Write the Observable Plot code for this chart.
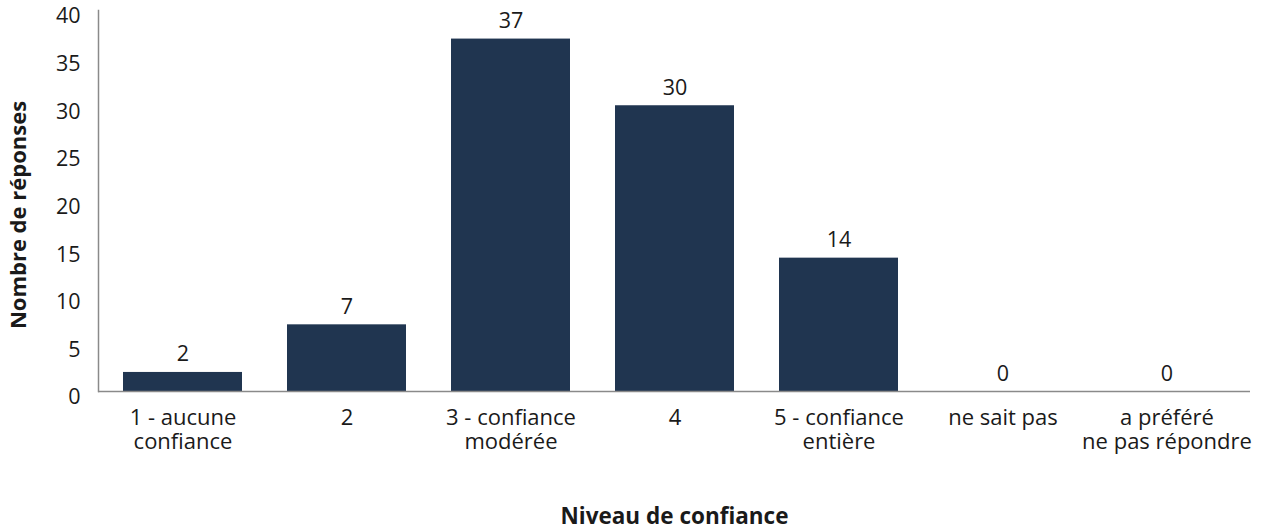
<!DOCTYPE html>
<html>
<head>
<meta charset="utf-8">
<script src="https://cdn.jsdelivr.net/npm/d3@7"></script>
<script src="https://cdn.jsdelivr.net/npm/@observablehq/plot@0.6"></script>
<style>
  html, body { margin: 0; padding: 0; background: #fff; }
  #chart svg { display: block; }
</style>
</head>
<body>
<div id="chart"></div>
<script>
// Confidence levels (x categories) and number of responses for each
const categories = [
  "1 - aucune\nconfiance",
  "2",
  "3 - confiance\nmodérée",
  "4",
  "5 - confiance\nentière",
  "ne sait pas",
  "a préféré\nne pas répondre"
];
const responses = [2, 7, 37, 30, 14, 0, 0];
const yTicks = [0, 5, 10, 15, 20, 25, 30, 35, 40];
const xTitle = "Niveau de confiance";
const yTitle = "Nombre de réponses";

const rows = categories.map((c, i) => ({category: c, value: responses[i]}));

const font = "'Open Sans', 'Noto Sans', sans-serif";
const ink = "#1a1a1a";
const barColor = "#203550";
const axisColor = "#8a8a8a";

const chart = Plot.plot({
  width: 1266,
  height: 531,
  marginLeft: 98,
  marginRight: 16,
  marginTop: 10,
  marginBottom: 140,
  style: {fontFamily: font, fontSize: "21px", color: ink, background: "#fff"},
  x: {domain: categories, paddingInner: 0.277, paddingOuter: 0.1385, label: null},
  y: {domain: [0, 40], label: null},
  marks: [
    Plot.barY(rows, {x: "category", y: "value", fill: barColor}),
    Plot.ruleY([0], {stroke: axisColor, strokeWidth: 1.5}),
    Plot.frame({anchor: "left", stroke: axisColor, strokeWidth: 1.5}),
    Plot.axisX({tickSize: 0, tickPadding: 17, fontSize: 22, lineHeight: 1.08, fill: ink}),
    Plot.axisY({ticks: yTicks, tickSize: 0, tickPadding: 18, fontSize: 21.5, dy: 6, fill: ink}),
    Plot.text(rows, {x: "category", y: "value", text: d => String(d.value), dy: -11, lineAnchor: "bottom", fontSize: 21.5, fill: ink}),
    Plot.text([xTitle], {frameAnchor: "bottom", dy: 125, lineAnchor: "middle", textAnchor: "middle", fontWeight: "bold", fontSize: 22.5, fill: ink}),
    Plot.text([yTitle], {frameAnchor: "left", dx: -80, dy: 14, rotate: -90, lineAnchor: "middle", textAnchor: "middle", fontWeight: "bold", fontSize: 22, fill: ink})
  ]
});

document.getElementById("chart").appendChild(chart);
</script>
</body>
</html>
